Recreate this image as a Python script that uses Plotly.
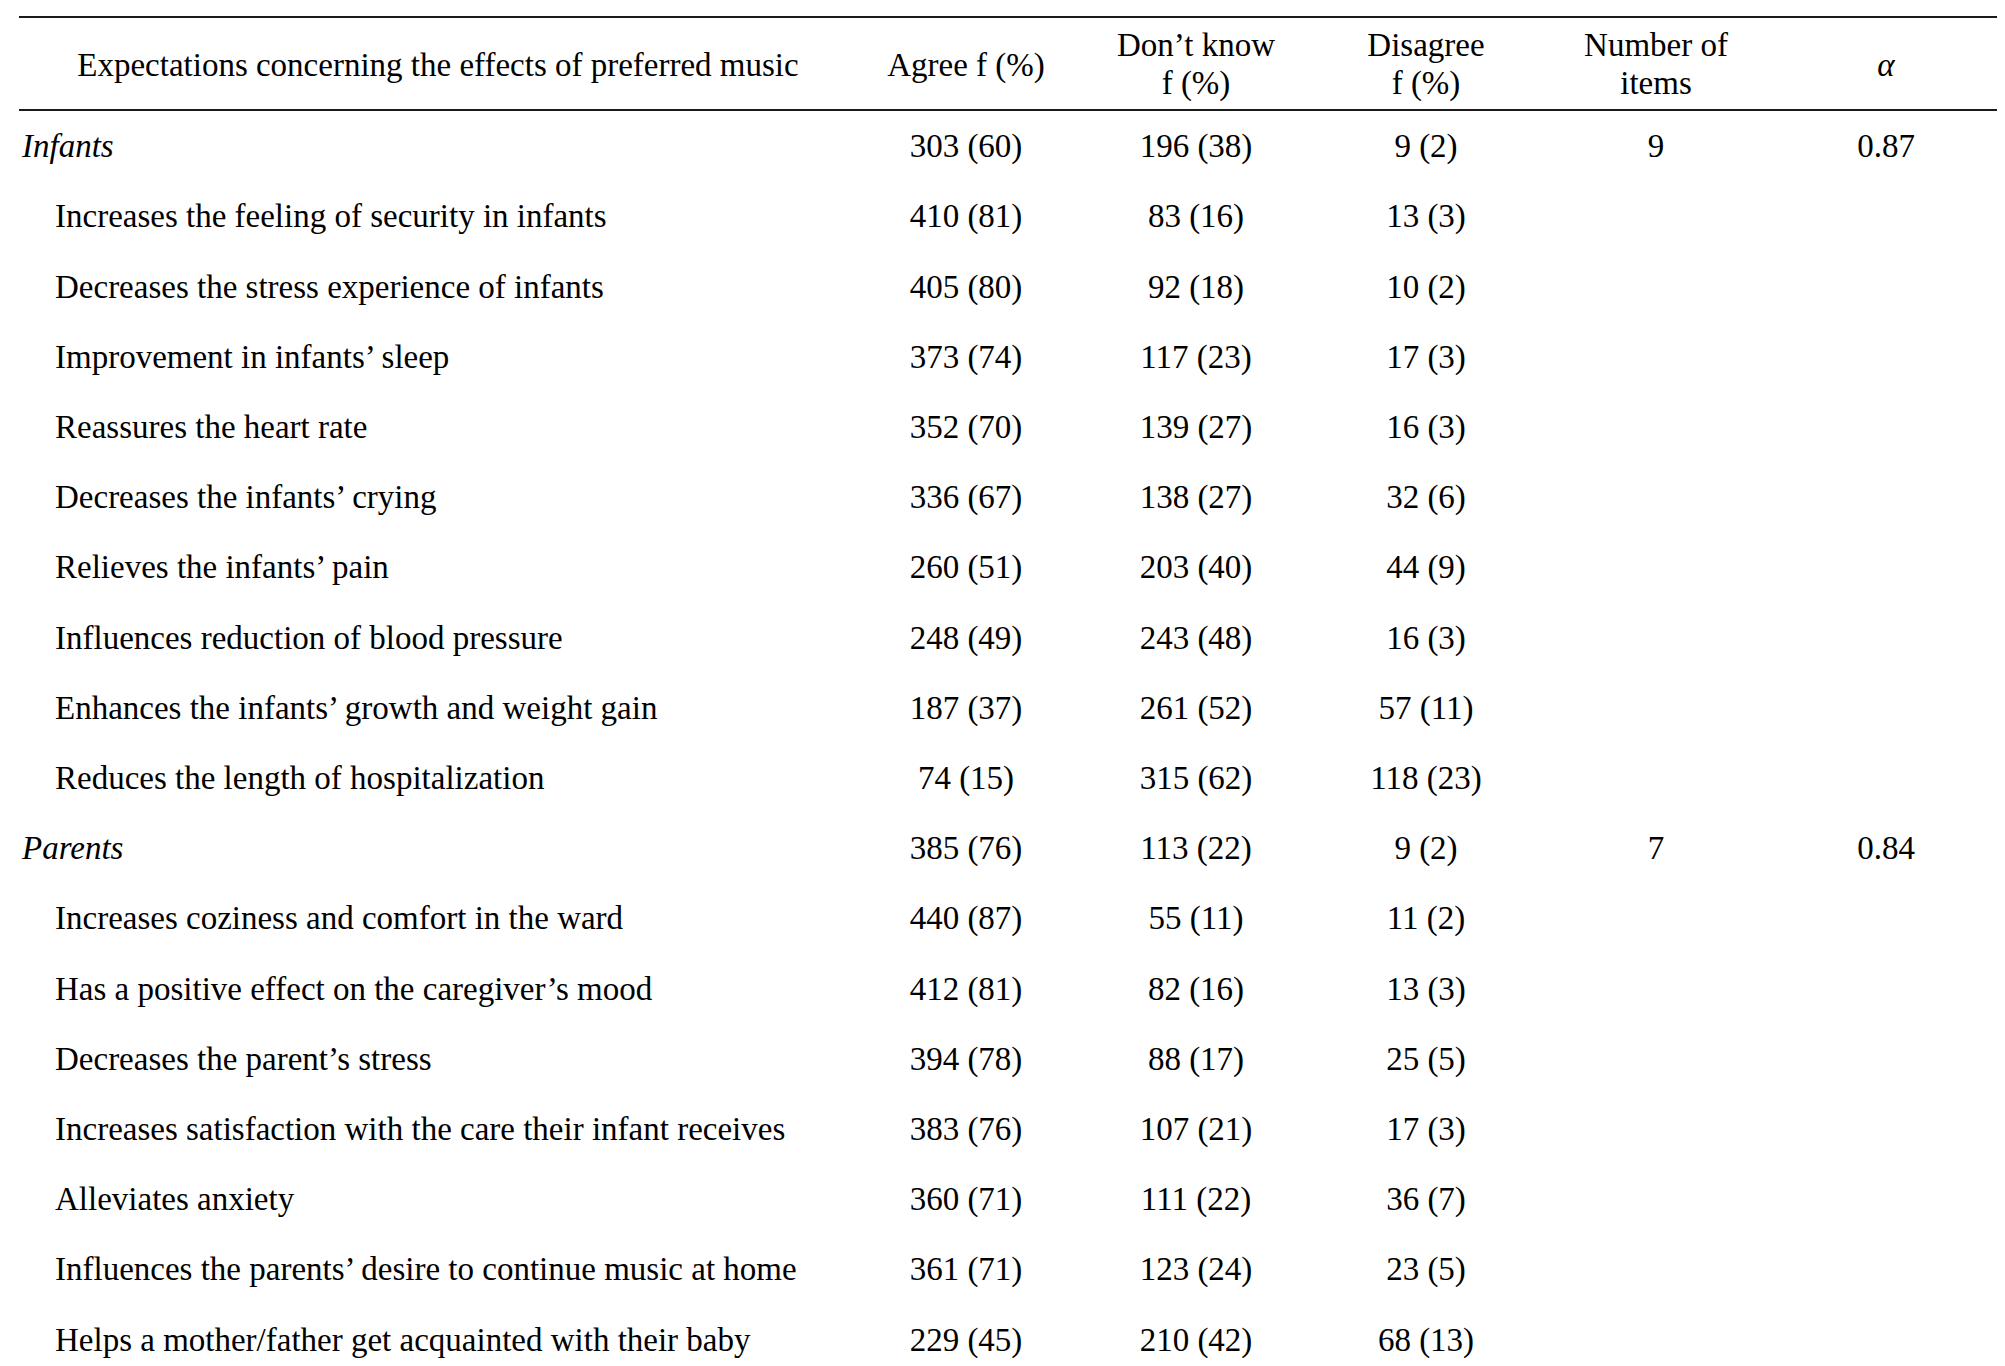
import plotly.graph_objects as go

# =============================================================================
# DATA
# =============================================================================
ROW_LABELS = [
    "Infants",
    "Increases the feeling of security in infants",
    "Decreases the stress experience of infants",
    "Improvement in infants\u2019 sleep",
    "Reassures the heart rate",
    "Decreases the infants\u2019 crying",
    "Relieves the infants\u2019 pain",
    "Influences reduction of blood pressure",
    "Enhances the infants\u2019 growth and weight gain",
    "Reduces the length of hospitalization",
    "Parents",
    "Increases coziness and comfort in the ward",
    "Has a positive effect on the caregiver\u2019s mood",
    "Decreases the parent\u2019s stress",
    "Increases satisfaction with the care their infant receives",
    "Alleviates anxiety",
    "Influences the parents\u2019 desire to continue music at home",
    "Helps a mother/father get acquainted with their baby",
]
IS_SECTION = [True] + [False] * 9 + [True] + [False] * 7

AGREE_F = [303, 410, 405, 373, 352, 336, 260, 248, 187, 74,
           385, 440, 412, 394, 383, 360, 361, 229]
AGREE_PCT = [60, 81, 80, 74, 70, 67, 51, 49, 37, 15,
             76, 87, 81, 78, 76, 71, 71, 45]
DONTKNOW_F = [196, 83, 92, 117, 139, 138, 203, 243, 261, 315,
              113, 55, 82, 88, 107, 111, 123, 210]
DONTKNOW_PCT = [38, 16, 18, 23, 27, 27, 40, 48, 52, 62,
                22, 11, 16, 17, 21, 22, 24, 42]
DISAGREE_F = [9, 13, 10, 17, 16, 32, 44, 16, 57, 118,
              9, 11, 13, 25, 17, 36, 23, 68]
DISAGREE_PCT = [2, 3, 2, 3, 3, 6, 9, 3, 11, 23,
                2, 2, 3, 5, 3, 7, 5, 13]

# only the section rows carry these
N_ITEMS = {0: "9", 10: "7"}
ALPHA = {0: "0.87", 10: "0.84"}

HEADERS = [
    ["Expectations concerning the effects of preferred music"],
    ["Agree f (%)"],
    ["Don\u2019t know", "f (%)"],
    ["Disagree", "f (%)"],
    ["Number of", "items"],
    ["<i>\u03b1</i>"],
]

# =============================================================================
# LAYOUT CONSTANTS (pixel-like x units, row-index y units)
# the page body adds an 8px margin, so positions are 8px less than on screen
# =============================================================================
W, H = 2005, 1366
ROW0_PX, ROW_PITCH = 141, 70.2
X_SECTION, X_ITEM = 14, 47
COL_X = [958, 1188, 1418, 1648, 1878]
HEAD_LABEL_X = 430
FONT = dict(family="Liberation Serif, Times New Roman, serif", size=33, color="#000000")


def px_to_row(py):
    return (py - ROW0_PX) / ROW_PITCH


def fmt(f, p):
    return f"{f} ({p})"


rows = list(range(len(ROW_LABELS)))
fig = go.Figure()

# row labels
label_x = [X_SECTION if s else X_ITEM for s in IS_SECTION]
label_txt = [f"<i>{t}</i>" if s else t for t, s in zip(ROW_LABELS, IS_SECTION)]
fig.add_trace(go.Scatter(x=label_x, y=rows, mode="text", text=label_txt,
                         textposition="middle right", textfont=FONT,
                         hoverinfo="skip", showlegend=False))

# data columns
columns = [
    [fmt(f, p) for f, p in zip(AGREE_F, AGREE_PCT)],
    [fmt(f, p) for f, p in zip(DONTKNOW_F, DONTKNOW_PCT)],
    [fmt(f, p) for f, p in zip(DISAGREE_F, DISAGREE_PCT)],
    [N_ITEMS.get(i, "") for i in rows],
    [ALPHA.get(i, "") for i in rows],
]
for cx, col in zip(COL_X, columns):
    fig.add_trace(go.Scatter(x=[cx] * len(rows), y=rows, mode="text", text=col,
                             textposition="middle center", textfont=FONT,
                             hoverinfo="skip", showlegend=False))

# header
head_x = [HEAD_LABEL_X] + COL_X
for hx, lines in zip(head_x, HEADERS):
    if len(lines) == 1:
        ys = [px_to_row(60)]
    else:
        ys = [px_to_row(40), px_to_row(78)]
    fig.add_trace(go.Scatter(x=[hx] * len(lines), y=ys, mode="text", text=lines,
                             textposition="middle center", textfont=FONT,
                             hoverinfo="skip", showlegend=False))

# horizontal rules
for py in (9, 102):
    yr = px_to_row(py)
    fig.add_shape(type="line", x0=11, x1=1993, y0=yr, y1=yr, xref="x", yref="y",
                  line=dict(color="#1a1a1a", width=2))

fig.update_layout(
    width=W, height=H, margin=dict(l=0, r=0, t=0, b=0),
    plot_bgcolor="white", paper_bgcolor="white",
    xaxis=dict(range=[0, W], visible=False, fixedrange=True),
    yaxis=dict(range=[px_to_row(H), px_to_row(0)], visible=False, fixedrange=True),
)

fig.write_html("out.html")
